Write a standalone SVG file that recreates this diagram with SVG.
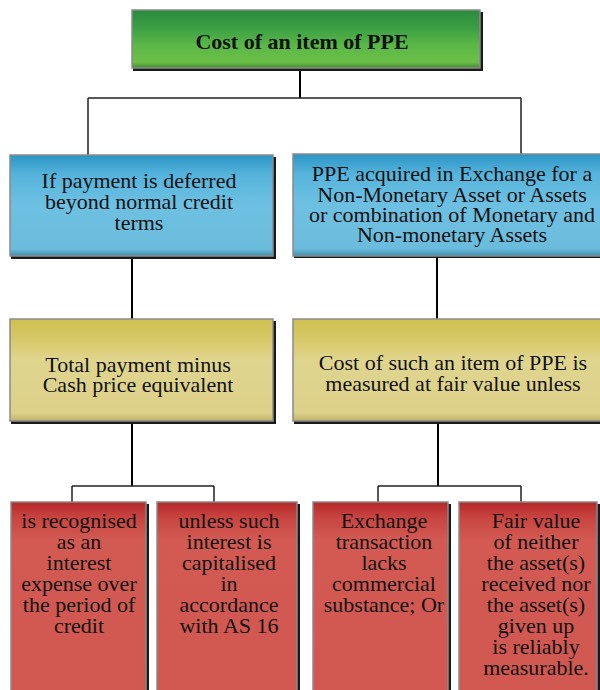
<svg xmlns="http://www.w3.org/2000/svg" width="600" height="690" viewBox="0 0 600 690">
<defs>
<linearGradient id="gGreen" x1="0" y1="0" x2="0" y2="1">
<stop offset="0" stop-color="#2a8a3c"/><stop offset="0.3" stop-color="#3a9e44"/><stop offset="0.6" stop-color="#5ab746"/><stop offset="0.9" stop-color="#6cc048"/><stop offset="1" stop-color="#3f8a30"/>
</linearGradient>
<linearGradient id="gBlue" x1="0" y1="0" x2="0" y2="1">
<stop offset="0" stop-color="#2b95c6"/><stop offset="0.2" stop-color="#56b4dc"/><stop offset="0.5" stop-color="#6ec0e2"/><stop offset="0.93" stop-color="#6bbcdc"/><stop offset="1" stop-color="#3e8fb0"/>
</linearGradient>
<linearGradient id="gYellow" x1="0" y1="0" x2="0" y2="1">
<stop offset="0" stop-color="#cfc050"/><stop offset="0.2" stop-color="#d7c968"/><stop offset="0.4" stop-color="#e0d58e"/><stop offset="0.92" stop-color="#ddd18a"/><stop offset="1" stop-color="#bfb268"/>
</linearGradient>
<linearGradient id="gRed" x1="0" y1="0" x2="0" y2="1">
<stop offset="0" stop-color="#b42828"/><stop offset="0.08" stop-color="#c84440"/><stop offset="0.2" stop-color="#d25a52"/><stop offset="1" stop-color="#d05850"/>
</linearGradient>
</defs>
<style>
.sh{fill:#1a1a1a}
.bx{stroke:#8a8a8a;stroke-width:1.5}
.t{font-family:"Liberation Serif","Times New Roman",serif;font-size:22px;fill:#111;text-anchor:middle}
.tb{font-weight:bold}
.c{stroke:#000;stroke-width:2;fill:none}
.c2{stroke:#222;stroke-width:1.5;fill:none}
</style>
<g id="connectors">
<path class="c" d="M300,69 V98"/>
<path class="c2" d="M88,98 H521 M88,98 V155 M521,98 V154"/>
<path class="c" d="M132,257 V319 M437,257 V319 M132,422 V486 M438,422 V486"/>
<path class="c2" d="M72,486 H214 M72,486 V502 M214,486 V502 M378,486 H521 M378,486 V502 M521,486 V502"/>
</g>
<g id="n-top">
<rect class="sh" x="133" y="12" width="350" height="59"/>
<rect class="bx" x="132" y="10" width="348" height="58" fill="url(#gGreen)"/>
<text class="t tb" x="302" y="49">Cost of an item of PPE</text>
</g>
<g id="n-deferred">
<rect class="sh" x="11" y="157" width="265" height="102"/>
<rect class="bx" x="10" y="155" width="263" height="101" fill="url(#gBlue)"/>
<text class="t" x="139" y="188">If payment is deferred</text>
<text class="t" x="139" y="209">beyond normal credit</text>
<text class="t" x="139" y="230">terms</text>
</g>
<g id="n-exchange">
<rect class="sh" x="294" y="156" width="310" height="102"/>
<rect class="bx" x="293" y="154" width="310" height="102" fill="url(#gBlue)"/>
<text class="t" x="452" y="181">PPE acquired in Exchange for a</text>
<text class="t" x="452" y="202">Non-Monetary Asset or Assets</text>
<text class="t" x="452" y="222">or combination of Monetary and</text>
<text class="t" x="452" y="242">Non-monetary Assets</text>
</g>
<g id="n-total">
<rect class="sh" x="11" y="321" width="265" height="103"/>
<rect class="bx" x="10" y="319" width="263" height="102" fill="url(#gYellow)"/>
<text class="t" x="138" y="372">Total payment minus</text>
<text class="t" x="138" y="392">Cash price equivalent</text>
</g>
<g id="n-fair">
<rect class="sh" x="294" y="321" width="310" height="103"/>
<rect class="bx" x="293" y="319" width="310" height="102" fill="url(#gYellow)"/>
<text class="t" x="453" y="370">Cost of such an item of PPE is</text>
<text class="t" x="453" y="391">measured at fair value unless</text>
</g>
<g id="n-interest">
<rect class="sh" x="12" y="504" width="137" height="190"/>
<rect class="bx" x="11" y="502" width="135" height="190" fill="url(#gRed)"/>
<text class="t" x="79" y="528">is recognised</text>
<text class="t" x="79" y="549">as an</text>
<text class="t" x="79" y="570">interest</text>
<text class="t" x="79" y="591">expense over</text>
<text class="t" x="79" y="612">the period of</text>
<text class="t" x="79" y="633">credit</text>
</g>
<g id="n-capitalised">
<rect class="sh" x="158" y="504" width="142" height="190"/>
<rect class="bx" x="157" y="502" width="140" height="190" fill="url(#gRed)"/>
<text class="t" x="229" y="528">unless such</text>
<text class="t" x="229" y="549">interest is</text>
<text class="t" x="229" y="570">capitalised</text>
<text class="t" x="229" y="591">in</text>
<text class="t" x="229" y="612">accordance</text>
<text class="t" x="229" y="633">with AS 16</text>
</g>
<g id="n-lacks">
<rect class="sh" x="314" y="504" width="137" height="190"/>
<rect class="bx" x="313" y="502" width="135" height="190" fill="url(#gRed)"/>
<text class="t" x="384" y="528">Exchange</text>
<text class="t" x="384" y="549">transaction</text>
<text class="t" x="384" y="570">lacks</text>
<text class="t" x="384" y="591">commercial</text>
<text class="t" x="384" y="612">substance; Or</text>
</g>
<g id="n-measurable">
<rect class="sh" x="460" y="504" width="140" height="190"/>
<rect class="bx" x="459" y="502" width="138" height="190" fill="url(#gRed)"/>
<text class="t" x="536" y="528">Fair value</text>
<text class="t" x="536" y="549">of neither</text>
<text class="t" x="536" y="570">the asset(s)</text>
<text class="t" x="536" y="591">received nor</text>
<text class="t" x="536" y="612">the asset(s)</text>
<text class="t" x="536" y="633">given up</text>
<text class="t" x="536" y="654">is reliably</text>
<text class="t" x="536" y="675">measurable.</text>
</g>
</svg>
